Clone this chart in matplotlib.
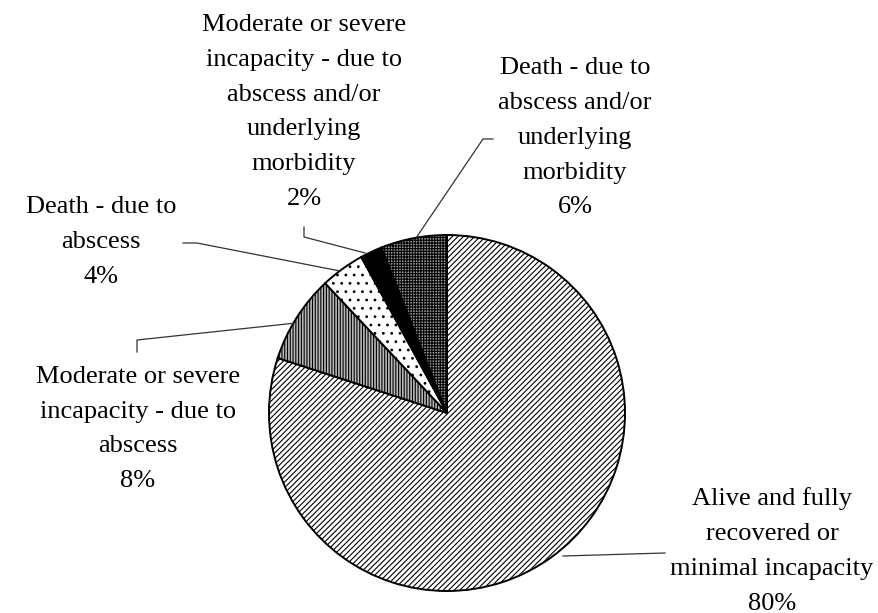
import matplotlib.pyplot as plt

# Slice data (clockwise from 12 o'clock)
labels = [
    "Alive and fully\nrecovered or\nminimal incapacity\n80%",
    "Moderate or severe\nincapacity - due to\nabscess\n8%",
    "Death - due to\nabscess\n4%",
    "Moderate or severe\nincapacity - due to\nabscess and/or\nunderlying\nmorbidity\n2%",
    "Death - due to\nabscess and/or\nunderlying\nmorbidity\n6%",
]
values = [80, 8, 4, 2, 6]

faces = ["white", "#b8b8b8", "white", "black", "#999999"]
hatches = ["//////", "||||||", "..", "", "++++++"]

W, H = 879, 613
plt.rcParams["hatch.linewidth"] = 0.8
plt.rcParams["font.family"] = ["Liberation Serif", "DejaVu Serif"]

fig = plt.figure(figsize=(W / 100, H / 100), dpi=100)
ax = fig.add_axes([0, 0, 1, 1])

def py(y):
    # pixel row (from top) -> data y
    return H - y

cx, cy, r = 447, 413, 178
wedges, _ = ax.pie(values, startangle=90, counterclock=False,
                   center=(cx, py(cy)), radius=r, frame=True,
                   wedgeprops=dict(edgecolor="black", linewidth=1.4))
for w, fc, h in zip(wedges, faces, hatches):
    w.set_facecolor(fc)
    w.set_hatch(h)
ax.set_xlim(0, W)
ax.set_ylim(0, H)
ax.set_aspect("equal")
ax.axis("off")

# label text blocks (centre positions in pixels)
label_pos = [(772, 551), (138, 429), (101, 242), (304, 112), (575, 138)]
for lab, (x, y) in zip(labels, label_pos):
    ax.text(x, py(y), lab, ha="center", va="center", fontsize=19,
            linespacing=1.75, color="black")

# leader lines
leaders = [
    [(665, 553), (563, 556)],
    [(137, 352), (137, 340), (296, 323)],
    [(183, 243), (197, 243), (340, 271)],
    [(304, 227), (304, 237), (365, 253)],
    [(493, 139), (483, 139), (416, 238)],
]
for pts in leaders:
    xs = [p[0] for p in pts]
    ys = [py(p[1]) for p in pts]
    ax.plot(xs, ys, color="#333333", linewidth=0.9)

fig.savefig("out.png", dpi=100, facecolor="white")
